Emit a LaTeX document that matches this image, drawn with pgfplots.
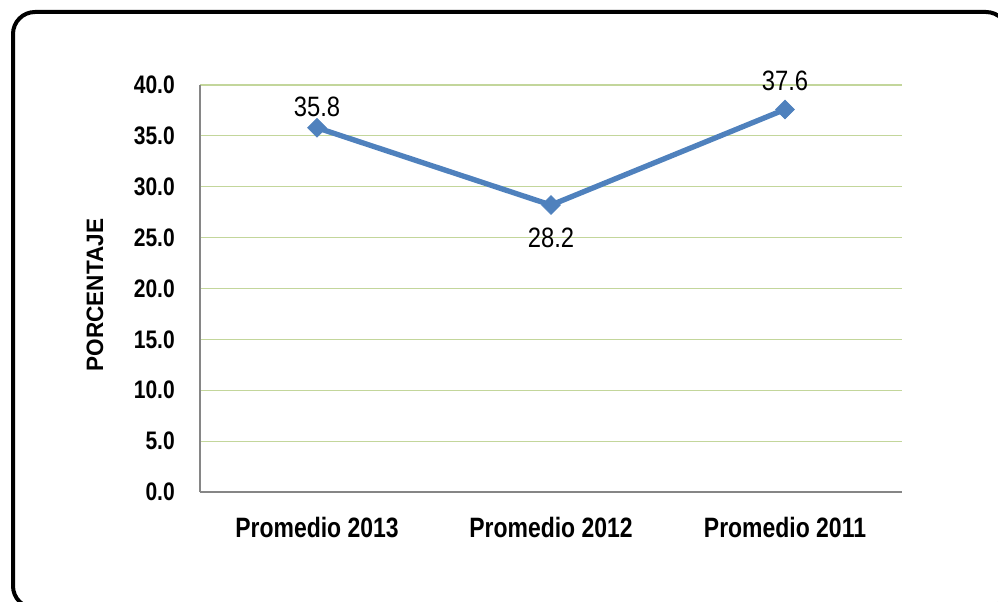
\documentclass[border=0pt]{standalone}
\usepackage{fontspec}
\setmainfont{Liberation Sans}[FakeStretch=0.85]
\newfontfamily\ylfont{Liberation Sans}[FakeStretch=0.95]
\newfontfamily\tickfont{Liberation Sans}[FakeStretch=0.83]
\newfontfamily\xfont{Liberation Sans}[FakeStretch=0.82]
\usepackage{pgfplots}
\pgfplotsset{compat=1.18}
\definecolor{lineblue}{HTML}{4F81BD}
\definecolor{gridgreen}{HTML}{C3D69B}
\definecolor{axgray}{HTML}{868686}
\begin{document}
\begin{tikzpicture}[x=0.75pt,y=0.75pt]
\useasboundingbox (0,0) rectangle (998,601);
\draw[line width=3pt, rounded corners=16.5pt] (13,589) rectangle (1008,-7);
\begin{axis}[
  at={(150pt,81.75pt)}, anchor=south west,
  scale only axis, width=526.5pt, height=305.25pt,
  xmin=-0.5, xmax=2.5, ymin=0, ymax=40,
  clip=false,
  axis x line*=bottom, axis y line*=left,
  axis line style={draw=axgray, line width=1.5pt, -},
  ytick={0,5,...,40},
  xtick={0,1,2},
  xticklabels={Promedio 2013, Promedio 2012, Promedio 2011},
  major tick length=0pt,
  tick style={draw=none},
  ymajorgrids,
  grid style={draw=gridgreen, line width=0.9pt},
  yticklabel={\pgfmathprintnumber[fixed,fixed zerofill,precision=1,assume math mode=true]{\tick}},
  yticklabel style={font=\tickfont\bfseries\fontsize{19}{21}\selectfont, anchor=east, inner sep=0pt, xshift=-18.75pt},
  xticklabel style={font=\xfont\bfseries\fontsize{21}{24}\selectfont, anchor=north, inner sep=0pt, yshift=-18.75pt},
]
\addplot[color=lineblue, line width=4pt, mark=square*, mark size=5pt,
  mark options={rotate=45, fill=lineblue, draw=lineblue, line width=0.5pt}]
  coordinates {(0,35.8) (1,28.2) (2,37.6)};
\addplot[draw=none, mark=none, point meta=y,
  nodes near coords={\pgfmathprintnumber[fixed,fixed zerofill,precision=1,assume math mode=true]{\pgfplotspointmeta}},
  nodes near coords style={font=\fontsize{21}{24}\selectfont, anchor=south, inner sep=0pt, yshift=8.25pt}]
  coordinates {(0,35.8)};
\addplot[draw=none, mark=none, point meta=y,
  nodes near coords={\pgfmathprintnumber[fixed,fixed zerofill,precision=1,assume math mode=true]{\pgfplotspointmeta}},
  nodes near coords style={font=\fontsize{21}{24}\selectfont, anchor=north, inner sep=0pt, yshift=-17.25pt}]
  coordinates {(1,28.2)};
\addplot[draw=none, mark=none, point meta=y,
  nodes near coords={\pgfmathprintnumber[fixed,fixed zerofill,precision=1,assume math mode=true]{\pgfplotspointmeta}},
  nodes near coords style={font=\fontsize{21}{24}\selectfont, anchor=south, inner sep=0pt, yshift=13.5pt}]
  coordinates {(2,37.6)};
\end{axis}
\node[rotate=90, inner sep=0pt, font=\ylfont\bfseries\fontsize{17.8}{20}\selectfont] at (95,306) {PORCENTAJE};
\end{tikzpicture}
\end{document}
